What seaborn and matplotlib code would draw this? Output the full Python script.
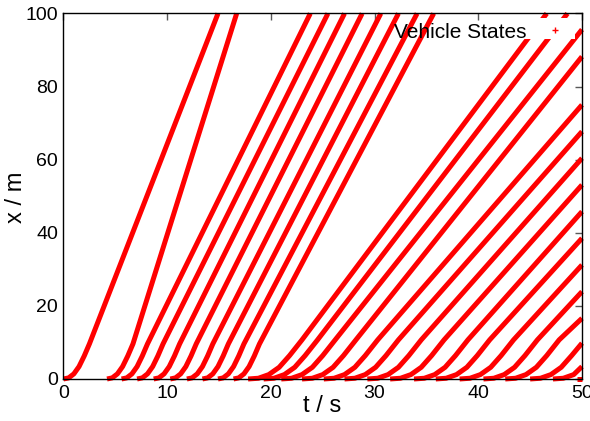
import matplotlib
matplotlib.use("Agg")
import matplotlib.pyplot as plt
import numpy as np
import pandas as pd
import seaborn as sns
from matplotlib.lines import Line2D
from matplotlib.patches import Rectangle

# ---------------- data ----------------
# fast early platoon: start time at x=0, time where it leaves the top (x=100)
early_start = [0.0, 4.2, 5.6, 7.1, 8.7, 10.3, 11.9, 13.4, 14.9, 16.4]
early_exit_t = [14.9, 16.7, 23.8, 25.5, 27.1, 28.8, 30.6, 32.3, 34.1, 35.7]
early_exit_x = [100, 100, 100, 100, 100, 100, 100, 100, 100, 100]
# launch curve of the early vehicles (time since start, position)
early_launch_dt = [0.0, 0.5, 1.0, 1.5, 2.0, 2.5]
early_launch_dx = [0.0, 0.3, 1.4, 3.4, 6.3, 9.6]

# slower late platoon
late_start = [17.8, 19.3, 21.0, 23.0, 25.1, 27.1, 29.3, 31.5, 33.8, 35.9,
              38.2, 40.5, 42.6, 45.0, 47.2, 49.5]
late_exit_t = [46.6, 48.6, 50, 50, 50, 50, 50, 50, 50, 50, 50, 50, 50, 50, 50, 50]
late_exit_x = [100, 100, 95.6, 88.2, 75.0, 67.7, 60.4, 53.1, 45.8, 38.5,
               31.2, 23.9, 16.6, 9.8, 3.4, 0.0]
late_launch_dt = [0.0, 1.0, 2.0, 3.0, 4.0, 5.2]
late_launch_dx = [0.0, 0.2, 1.2, 3.2, 6.4, 10.7]

x_ticks = [0, 10, 20, 30, 40, 50]
y_ticks = [0, 20, 40, 60, 80, 100]
legend_label = "Vehicle States"

# ---------------- build table ----------------
rows = []
vid = 0
for starts, ex_t, ex_x, ldt, ldx in [
    (early_start, early_exit_t, early_exit_x, early_launch_dt, early_launch_dx),
    (late_start, late_exit_t, late_exit_x, late_launch_dt, late_launch_dx),
]:
    for t0, te, xe in zip(starts, ex_t, ex_x):
        for dt, dx in zip(ldt, ldx):
            if t0 + dt < te:
                rows.append((vid, t0 + dt, dx))
        rows.append((vid, te, xe))
        vid += 1
df = pd.DataFrame(rows, columns=["vehicle", "t", "x"])

# ---------------- plot ----------------
sns.set_theme(style="white")
plt.rcParams["font.family"] = ["Liberation Sans", "DejaVu Sans"]
plt.rcParams["text.color"] = "black"
plt.rcParams["axes.labelcolor"] = "black"
plt.rcParams["xtick.color"] = "black"
plt.rcParams["ytick.color"] = "black"

fig = plt.figure(figsize=(5.90, 4.21), dpi=100)
ax = fig.add_axes([0.1076, 0.0998, 0.8788, 0.8682])

sns.lineplot(data=df, x="t", y="x", units="vehicle", estimator=None,
             sort=False, color="#ff0000", linewidth=3.6, legend=False, ax=ax)
for ln in ax.get_lines():
    ln.set_clip_on(False)
    ln.set_solid_capstyle("butt")
    ln.set_solid_joinstyle("round")

ax.set_xlim(0, 50)
ax.set_ylim(0, 100)
ax.set_xticks(x_ticks)
ax.set_yticks(y_ticks)
ax.tick_params(direction="in", top=True, right=True, length=5, width=1,
               color="0.35", labelsize=14, pad=4, labelcolor="black")
for s in ax.spines.values():
    s.set_color("black")
    s.set_linewidth(1.0)
    s.set_zorder(5)

ax.set_xlabel("t / s", fontsize=17)
ax.set_ylabel("x / m", fontsize=17)
ax.xaxis.set_label_coords(0.4986, -0.044)
ax.yaxis.set_label_coords(-0.070, 0.498)

# opaque sample area of the key
ax.add_patch(Rectangle((0.886, 0.930), 0.10, 0.058, transform=ax.transAxes,
                       facecolor="white", edgecolor="none", zorder=3,
                       clip_on=False))
handle = Line2D([], [], color="#ff0000", marker="+", linestyle="none",
                markersize=5, markeredgewidth=1)
leg = ax.legend([handle], [legend_label], loc="upper right",
                bbox_to_anchor=(0.994, 0.998), markerfirst=False, frameon=False,
                fontsize=15, handlelength=1.5, handletextpad=0.6,
                borderaxespad=0)
leg.set_zorder(6)

fig.savefig("out.png", dpi=100)
